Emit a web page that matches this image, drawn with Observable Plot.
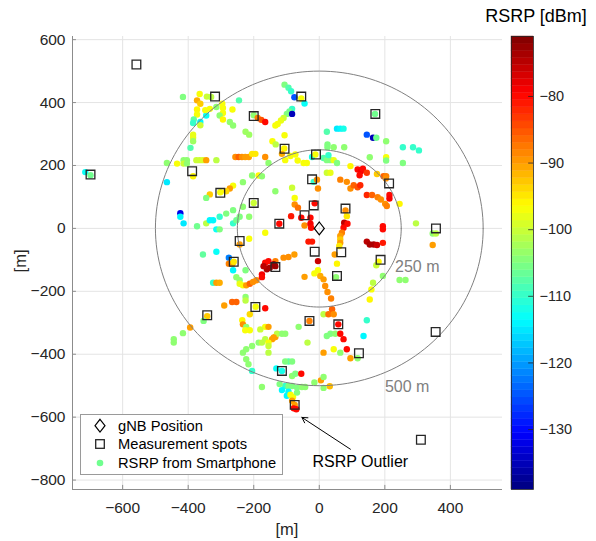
<!DOCTYPE html>
<html><head><meta charset="utf-8">
<script src="https://cdn.jsdelivr.net/npm/d3@7"></script>
<script src="https://cdn.jsdelivr.net/npm/@observablehq/plot@0.6"></script>
<style>
body{margin:0;background:#fff;font-family:"Liberation Sans",Arial,sans-serif;}
#wrap{position:relative;width:596px;height:541px;overflow:hidden;}
#wrap > svg, #wrap > div{position:absolute;left:0;top:0;}
</style></head><body>
<div id="wrap"><div id="main"></div><div id="cbar" style="left:440px"></div></div>
<script>
// ---- data ----
const xDomain = [-753, 559];
const yDomain = [-830, 610];
const xTicks = [-600, -400, -200, 0, 200, 400];
const yTicks = [-800, -600, -400, -200, 0, 200, 400, 600];
const cbDomain = [-139, -71];
const cbTicks = [-130, -120, -110, -100, -90, -80];
const ringRadii = [250, 500];
const ringLabelText = ["250 m", "500 m"];
const ringLabelX = [299, 268];
const ringLabelY = [-123, -504];
const gnbX = [0], gnbY = [0];
const spotX = [-558,-318,-55,171,-200,-106,-10,-388,-698,213,-22,-302,-200,-17,80,-45,-122,356,-243,-14,67,187,-261,-134,54,-195,-342,-30,58,355,121,-114,-75,310];
const spotY = [521,419,419,364,357,253,235,182,171,143,156,113,81,73,63,42,15,0,-40,-74,-76,-100,-106,-123,-151,-250,-276,-294,-305,-329,-397,-453,-561,-672];
// [x (m), y (m), RSRP (dBm)]
const smartphone = [
[-714,179,-113],[-698,169,-106],
[-416,418,-105],[-365,427,-97],[-343,419,-100],[-330,418,-101],[-373,407,-91],[-363,396,-93],[-373,378,-96],[-373,362,-97],
[-383,346,-107],[-385,335,-110],[-363,338,-114],[-345,359,-113],[-363,328,-100],[-348,376,-97],[-334,380,-97],[-314,386,-104],
[-296,396,-97],[-294,383,-97],[-294,367,-97],[-304,359,-104],[-294,346,-96],[-265,378,-97],[-245,407,-108],[-273,338,-104],
[-263,327,-104],[-385,298,-98],[-385,288,-98],[-385,277,-103],[-393,256,-108],[-225,307,-103],[-214,298,-103],[-200,360,-104],
[-188,351,-88],[-177,345,-85],[-165,338,-80],[-143,277,-97],[-133,267,-101],[-256,227,-89],[-246,227,-86],[-236,227,-89],
[-226,227,-90],[-215,227,-90],[-205,237,-95],[-195,237,-95],[-165,227,-89],[-155,208,-104],[-465,208,-104],[-434,206,-97],
[-414,217,-104],[-404,217,-104],[-414,206,-100],[-404,206,-104],[-375,217,-100],[-365,217,-100],[-355,217,-99],[-345,217,-90],
[-314,217,-101],[-385,166,-96],[-465,147,-115],[-205,168,-104],[-185,168,-96],[-175,166,-104],[-233,147,-104],[-263,136,-97],
[-273,127,-90],[-284,118,-94],[-302,115,-97],[-334,108,-93],[-345,97,-105],[-134,118,-104],
[-106,457,-105],[-94,447,-108],[-86,436,-110],[-76,417,-125],[-55,413,-97],[-45,397,-113],[-83,380,-110],[-91,372,-106],
[-99,364,-105],[-83,364,-135],[-109,351,-100],[-117,343,-98],[-127,332,-97],[-134,327,-97],[-106,296,-97],[-107,254,-96],
[-114,237,-91],[-104,217,-97],[-88,230,-97],[-73,235,-97],[-66,216,-97],[-48,208,-97],[-38,208,-97],[-22,227,-112],[-12,235,-97],
[23,307,-108],[25,267,-105],[25,258,-105],[44,258,-104],[76,258,-104],[54,317,-115],[64,317,-114],[74,317,-112],[13,224,-108],
[23,217,-105],[34,217,-105],[44,217,-98],[54,208,-105],[28,233,-110],[23,177,-100],[34,177,-98],[-17,148,-110],[-7,155,-89],
[-4,127,-89],[64,155,-88],[84,148,-89],[95,198,-96],[95,127,-89],[105,137,-86],[117,131,-85],[125,137,-82],[117,187,-80],
[127,182,-79],[123,169,-80],[133,190,-80],[145,177,-83],[145,298,-125],[164,288,-135],[174,288,-106],[170,364,-106],[204,277,-104],
[154,226,-104],[204,226,-97],[204,216,-105],[255,258,-110],[286,258,-110],[304,248,-110],[255,208,-105],[176,173,-93],[196,166,-86],
[204,166,-88],[203,159,-89],[-83,129,-100],
[-75,97,-97],[-75,76,-89],[-65,66,-87],[-86,39,-81],[-55,34,-80],[-45,9,-89],[-27,34,-80],[-27,15,-79],[-25,2,-80],[-14,80,-80],
[-122,15,-80],[145,106,-82],[161,106,-86],[178,99,-88],[188,92,-89],[214,106,-80],[214,95,-79],[201,78,-89],[206,71,-88],[245,78,-96],
[80,57,-89],[84,39,-95],[76,18,-75],[86,15,-80],[74,2,-80],[69,-14,-88],[64,-24,-90],[64,-35,-93],[64,-46,-90],[61,-56,-95],
[194,7,-80],[194,-3,-80],[145,-42,-75],[154,-51,-74],[166,-51,-74],[176,-53,-76],[194,-46,-81],[295,16,-101],[346,-16,-104],
[356,-16,-101],[346,-53,-90],[-33,-42,-81],[-22,-42,-81],[-4,-104,-76],[47,-83,-90],[54,-112,-96],[-4,-133,-97],[-15,-143,-97],
[3,-151,-91],[13,-162,-90],[18,-183,-89],[25,-202,-89],[36,-223,-88],[51,-155,-104],[-45,-154,-90],[-76,-83,-90],[-94,-91,-89],
[-109,-93,-89],[-134,-104,-88],[181,-106,-96],[174,-117,-100],[164,-173,-101],[159,-194,-97],[154,-226,-96],[194,-151,-104],
[245,-164,-104],[263,-164,-104],[13,-273,-101],[28,-273,-87],[39,-257,-86],[44,-273,-89],[-30,-294,-88],[58,-305,-80],[145,-292,-110],
[-134,-120,-73],
[-424,48,-132],[-424,37,-114],[-414,16,-115],[-373,7,-106],[-345,16,-101],[-334,26,-114],[-324,26,-114],[-304,37,-110],[-284,47,-105],
[-263,58,-105],[-263,16,-110],[-253,26,-106],[-243,37,-105],[-233,69,-104],[-214,37,-104],[-314,-3,-113],[-304,-3,-105],[-200,81,-100],
[-243,-51,-90],[-214,-33,-97],[-165,-14,-97],[-355,-83,-107],[-314,-74,-113],[-276,-93,-122],[-276,-112,-88],[-265,-112,-90],
[-261,-106,-95],[-263,-133,-114],[-225,-133,-105],[-253,-155,-104],[-243,-165,-104],[-243,-176,-98],[-233,-181,-97],[-223,-181,-90],
[-212,-176,-86],[-202,-170,-89],[-192,-165,-89],[-324,-173,-110],[-314,-173,-90],[-304,-173,-91],[-165,-109,-80],[-155,-104,-80],
[-151,-125,-74],[-175,-146,-79],[-175,-155,-80],[-160,-130,-74],[-170,-120,-75],[-139,-114,-73],[-225,-218,-104],[-225,-229,-101],
[-266,-234,-86],[-253,-234,-86],[-290,-245,-90],[-194,-249,-97],[-165,-254,-80],[-212,-273,-94],[-342,-279,-93],[-353,-294,-105],
[-235,-292,-96],[-233,-305,-89],[-394,-315,-90],
[-416,-333,-104],[-444,-352,-104],[-444,-363,-104],[-223,-313,-104],[-226,-324,-97],[-212,-324,-97],[-165,-313,-97],[-155,-313,-90],
[-180,-321,-100],[-134,-345,-90],[-144,-352,-90],[-185,-363,-104],[-175,-363,-101],[-165,-352,-101],[-155,-363,-97],[-155,-374,-100],
[-155,-395,-101],[-233,-395,-104],[-223,-384,-104],[-205,-374,-104],[-223,-416,-104],[-216,-432,-104],[-205,-453,-110],[-175,-504,-104],
[-129,-335,-101],[-114,-335,-104],[-104,-335,-104],[-139,-347,-90],[-63,-313,-104],[-36,-363,-101],[23,-342,-105],[34,-335,-105],
[49,-335,-104],[64,-335,-80],[74,-352,-80],[84,-384,-80],[64,-395,-104],[44,-384,-97],[13,-395,-90],[135,-342,-114],[117,-413,-104],
[95,-413,-90],[-94,-423,-108],[-83,-423,-105],[-104,-423,-105],[-131,-445,-113],[-114,-453,-112],[-83,-469,-104],[-73,-462,-105],
[-55,-462,-80],[-104,-501,-110],[-94,-501,-105],[-83,-501,-105],[-68,-506,-105],[-53,-504,-104],[-43,-504,-104],[-121,-495,-105],
[-15,-490,-104],[5,-483,-90],[13,-472,-104],[13,-507,-104],[32,-502,-92],[-114,-514,-114],[-94,-519,-114],[-99,-532,-114],[-88,-529,-97],
[-80,-536,-97],[-68,-522,-105],[-83,-548,-90],[-75,-561,-90],[-78,-572,-80],[-70,-575,-80]
];
const outlierText = ["RSRP Outlier"];
const outlierTextX = [125], outlierTextY = [-742];
const arrowFrom = [95, -702], arrowTo = [-53, -601];

// ---- colour (jet) ----
const jetStops = [-139, -130.5, -113.5, -96.5, -79.5, -71];
const jetColors = ["#00007f", "#0000ff", "#00ffff", "#ffff00", "#ff0000", "#7f0000"];
const colorOpts = {type: "linear", domain: jetStops, range: jetColors, interpolate: "rgb"};

const diamondSym = {draw(ctx, size) { const s = Math.sqrt(size / Math.PI);
  ctx.moveTo(0, -1.6 * s); ctx.lineTo(1.25 * s, 0); ctx.lineTo(0, 1.6 * s); ctx.lineTo(-1.25 * s, 0); ctx.closePath(); }};

const ringPts = ringRadii.flatMap(r => d3.range(0, 361, 2).map(a => ({r, x: r * Math.cos(a * Math.PI / 180), y: r * Math.sin(a * Math.PI / 180)})));
const ringLabels = ringLabelText.map((t, i) => ({text: t, x: ringLabelX[i], y: ringLabelY[i]}));
const spots = spotX.map((x, i) => ({x, y: spotY[i]}));
const gnb = gnbX.map((x, i) => ({x, y: gnbY[i]}));
const outlier = outlierText.map((t, i) => ({text: t, x: outlierTextX[i], y: outlierTextY[i]}));

const main = Plot.plot({
  width: 596, height: 541,
  marginLeft: 72, marginRight: 94, marginTop: 36, marginBottom: 52,
  style: {fontFamily: "Liberation Sans, Arial, sans-serif", fontSize: "15.5px", color: "#262626", background: "transparent"},
  x: {domain: xDomain},
  y: {domain: yDomain},
  color: colorOpts,
  marks: [
    Plot.gridX(xTicks, {stroke: "#e4e4e4", strokeOpacity: 1}),
    Plot.gridY(yTicks, {stroke: "#e4e4e4", strokeOpacity: 1}),
    Plot.dot(smartphone, {x: d => d[0], y: d => d[1], fill: d => d[2], r: 3.2}),
    Plot.line(ringPts, {x: "x", y: "y", z: "r", stroke: "#808080", strokeWidth: 1}),
    Plot.dot(spots, {x: "x", y: "y", symbol: "square", r: 4.9, stroke: "#262626", strokeWidth: 1.3, fill: "none"}),
    Plot.dot(gnb, {x: "x", y: "y", symbol: diamondSym, r: 4, stroke: "#000", strokeWidth: 1.2, fill: "none"}),
    Plot.text(ringLabels, {x: "x", y: "y", text: "text", fill: "#808080", fontSize: 16}),
    Plot.arrow([{x1: arrowFrom[0], y1: arrowFrom[1], x2: arrowTo[0], y2: arrowTo[1]}], {x1: "x1", y1: "y1", x2: "x2", y2: "y2", stroke: "#000", strokeWidth: 1, headLength: 9}),
    Plot.text(outlier, {x: "x", y: "y", text: "text", fill: "#000", fontSize: 16}),
    Plot.ruleY([yDomain[0]], {stroke: "#8c8c8c"}),
    Plot.ruleX([xDomain[0]], {stroke: "#8c8c8c"}),
    Plot.ruleX(xTicks, {y1: yDomain[0], y2: yDomain[0] + 13, stroke: "#8c8c8c"}),
    Plot.ruleY(yTicks, {x1: xDomain[0], x2: xDomain[0] + 12, stroke: "#8c8c8c"}),
    Plot.axisX(xTicks, {tickSize: 0, tickPadding: 12, label: null, fill: "#262626"}),
    Plot.axisY(yTicks, {tickSize: 0, tickPadding: 7, label: null, fill: "#262626"})
  ]
});
document.getElementById("main").appendChild(main);

// ---- colour bar ----
const nLev = 64;
const levels = d3.range(nLev).map(i => {
  const a = cbDomain[0] + i * (cbDomain[1] - cbDomain[0]) / nLev;
  const b = cbDomain[0] + (i + 1) * (cbDomain[1] - cbDomain[0]) / nLev;
  return {y1: a, y2: b, v: (a + b) / 2};
});
const cbar = Plot.plot({
  width: 156, height: 541,
  marginLeft: 71, marginRight: 63, marginTop: 36, marginBottom: 52,
  style: {fontFamily: "Liberation Sans, Arial, sans-serif", fontSize: "14.5px", color: "#262626", background: "transparent"},
  x: {domain: [0, 1], axis: null},
  y: {domain: cbDomain, axis: null},
  color: colorOpts,
  marks: [
    Plot.rect(levels, {x1: 0, x2: 1, y1: "y1", y2: "y2", fill: "v", stroke: "v", strokeWidth: 0.4}),
    Plot.ruleY(cbTicks, {x1: 0.78, x2: 1, stroke: "#262626", strokeWidth: 0.8}),
    Plot.frame({stroke: "#262626", strokeWidth: 0.8}),
    Plot.axisY(cbTicks, {anchor: "right", tickSize: 0, tickPadding: 6, label: null, fill: "#262626"})
  ]
});
document.getElementById("cbar").appendChild(cbar);

// ---- overlay: labels, legend ----
const ov = d3.select("#wrap").append("svg").attr("width", 596).attr("height", 541)
  .style("font-family", "Liberation Sans, Arial, sans-serif").style("pointer-events", "none");
ov.append("text").attr("x", 287).attr("y", 535).attr("text-anchor", "middle").attr("font-size", 16.5).attr("fill", "#262626").text("[m]");
ov.append("text").attr("transform", "translate(26,261) rotate(-90)").attr("text-anchor", "middle").attr("font-size", 16.5).attr("fill", "#262626").text("[m]");
ov.append("text").attr("x", 536).attr("y", 22).attr("text-anchor", "middle").attr("font-size", 18).attr("fill", "#000").text("RSRP [dBm]");
const lg = ov.append("g");
lg.append("rect").attr("x", 80.5).attr("y", 414.5).attr("width", 202).attr("height", 60).attr("fill", "#fff").attr("stroke", "#9a9a9a");
lg.append("path").attr("d", "M100,419.3 L105,425.7 L100,432.1 L95,425.7 Z").attr("fill", "none").attr("stroke", "#000").attr("stroke-width", 1.2);
lg.append("rect").attr("x", 95.7).attr("y", 439.7).attr("width", 8.6).attr("height", 8.6).attr("fill", "none").attr("stroke", "#262626").attr("stroke-width", 1.3);
lg.append("circle").attr("cx", 100).attr("cy", 463).attr("r", 3.3).attr("fill", "#70ff8f");
const lgText = ["gNB Position", "Measurement spots", "RSRP from Smartphone"];
const lgY = [425.7, 444, 463];
lgText.forEach((t, i) => lg.append("text").attr("x", 118).attr("y", lgY[i]).attr("dy", "0.35em").attr("font-size", 14.7).attr("fill", "#000").text(t));
</script>
</body></html>
